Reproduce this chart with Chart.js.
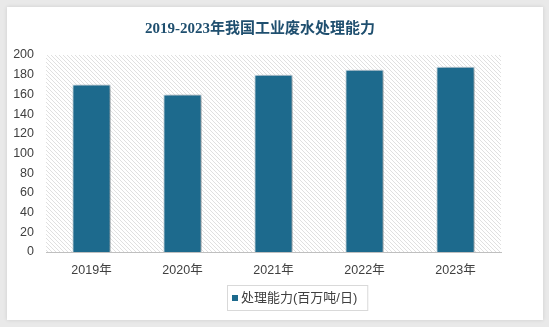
<!DOCTYPE html>
<html>
<head>
<meta charset="utf-8">
<script src="https://cdn.jsdelivr.net/npm/chart.js@4/dist/chart.umd.min.js"></script>
<style>
  html, body { margin: 0; padding: 0; background: #e9e9e9; }
  #wrap { width: 549px; height: 327px; }
</style>
</head>
<body>
<div id="wrap"><canvas id="capacityChart" width="549" height="327"></canvas></div>
<script>
// Datos del gráfico
const years = ['2019年', '2020年', '2021年', '2022年', '2023年'];
const capacity = [170, 160, 180, 185, 188];
const seriesName = '处理能力(百万吨/日)';
const chartTitle = '2019-2023年我国工业废水处理能力';

const barColor = '#1d6a8d';
const labelFont = '"Liberation Sans", "Noto Sans CJK SC", sans-serif';

// Patrón rayado del fondo del área del gráfico
function makeHatch() {
  const c = document.createElement('canvas');
  c.width = 4; c.height = 4;
  const g = c.getContext('2d');
  g.fillStyle = '#ffffff';
  g.fillRect(0, 0, 4, 4);
  g.strokeStyle = '#e0e0e0';
  g.lineWidth = 1;
  g.beginPath();
  g.moveTo(0, 0); g.lineTo(4, 4);
  g.moveTo(-1, 3); g.lineTo(1, 5);
  g.moveTo(3, -1); g.lineTo(5, 1);
  g.stroke();
  return c;
}

const framePlugin = {
  id: 'frame',
  beforeDraw(chart) {
    const ctx = chart.ctx;
    const a = chart.chartArea;
    ctx.save();
    ctx.fillStyle = '#e9e9e9';
    ctx.fillRect(0, 0, chart.width, chart.height);
    ctx.shadowColor = 'rgba(0,0,0,0.12)';
    ctx.shadowBlur = 4;
    ctx.fillStyle = '#ffffff';
    ctx.fillRect(7, 7, 536, 313);
    ctx.shadowColor = 'transparent';
    ctx.fillStyle = ctx.createPattern(makeHatch(), 'repeat');
    ctx.fillRect(a.left, a.top, a.right - a.left, a.bottom - a.top);
    ctx.restore();
  },
  beforeDatasetsDraw(chart) {
    const ctx = chart.ctx;
    ctx.save();
    ctx.shadowColor = 'rgba(0,0,0,0.35)';
    ctx.shadowBlur = 6;
    ctx.shadowOffsetX = 3;
    ctx.shadowOffsetY = 1;
  },
  afterDatasetsDraw(chart) {
    chart.ctx.restore();
  },
  afterDraw(chart) {
    const ctx = chart.ctx;
    ctx.save();
    // Título
    ctx.fillStyle = '#1f4f6f';
    ctx.font = 'bold 15px "Liberation Serif", "Noto Sans CJK SC", serif';
    ctx.textAlign = 'center';
    ctx.textBaseline = 'middle';
    ctx.fillText(chartTitle, 260, 29);
    // Leyenda
    ctx.font = '13px ' + labelFont;
    const tw = ctx.measureText(seriesName).width;
    const bx = 227, by = 285, bw = tw + 24, bh = 25;
    ctx.fillStyle = '#ffffff';
    ctx.fillRect(bx, by, bw, bh);
    ctx.strokeStyle = '#d9d9d9';
    ctx.lineWidth = 1;
    ctx.strokeRect(bx + 0.5, by + 0.5, bw, bh);
    ctx.fillStyle = barColor;
    ctx.fillRect(bx + 5, by + 10, 6, 6);
    ctx.fillStyle = '#404040';
    ctx.textAlign = 'left';
    ctx.fillText(seriesName, bx + 14, by + 13);
    ctx.restore();
  }
};

function loadChart() {
  const ctx = document.getElementById('capacityChart').getContext('2d');
  new Chart(ctx, {
    type: 'bar',
    data: {
      labels: years,
      datasets: [{
        label: seriesName,
        data: capacity,
        backgroundColor: barColor,
        borderColor: '#cfe0ea',
        borderWidth: 1,
        categoryPercentage: 1,
        barPercentage: 0.42,
      }],
    },
    options: {
      responsive: false,
      animation: false,
      layout: { padding: { left: 0, right: 48, top: 55, bottom: 45 } },
      plugins: {
        legend: { display: false },
        title: { display: false },
        tooltip: { enabled: false },
      },
      scales: {
        x: {
          grid: { display: false, drawTicks: false },
          border: { color: '#bfbfbf', width: 1 },
          ticks: { color: '#404040', font: { family: labelFont, size: 12.5 }, padding: 11 },
          afterFit(scale) { scale.height = 30; },
        },
        y: {
          min: 0,
          max: 200,
          grid: { display: false, drawTicks: false },
          border: { display: false },
          ticks: { stepSize: 20, color: '#404040', font: { family: labelFont, size: 12.5 }, padding: 12 },
          afterFit(scale) { scale.width = 46; },
        },
      },
    },
    plugins: [framePlugin],
  });
}

document.addEventListener('DOMContentLoaded', loadChart);
</script>
</body>
</html>
